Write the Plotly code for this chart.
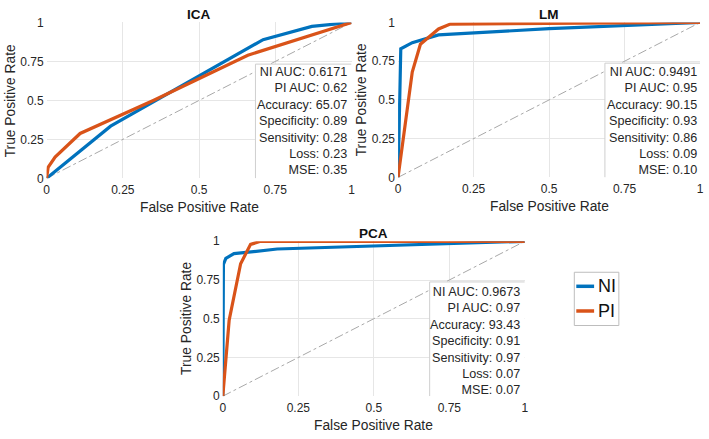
import plotly.graph_objects as go

# ---------------- data ----------------
ica_ni_fpr = [0, 0.21, 0.71, 0.87, 1]
ica_ni_tpr = [0, 0.335, 0.89, 0.975, 1]
ica_pi_fpr = [0, 0.005, 0.028, 0.11, 0.35, 0.66, 1]
ica_pi_tpr = [0, 0.07, 0.137, 0.288, 0.5, 0.79, 1]

lm_ni_fpr = [0, 0.009, 0.047, 0.134, 0.5, 0.8, 1]
lm_ni_tpr = [0, 0.83, 0.87, 0.92, 0.96, 0.985, 1]
lm_pi_fpr = [0, 0.047, 0.074, 0.134, 0.173, 0.5, 1]
lm_pi_tpr = [0, 0.68, 0.86, 0.958, 0.99, 0.995, 1]

pca_ni_fpr = [0, 0.002, 0.01, 0.037, 0.18, 0.5, 0.75, 1]
pca_ni_tpr = [0, 0.85, 0.89, 0.92, 0.95, 0.97, 0.985, 1]
pca_pi_fpr = [0, 0.01, 0.021, 0.059, 0.092, 0.125, 1]
pca_pi_tpr = [0, 0.25, 0.49, 0.855, 0.98, 1.0, 1.0]

diag = [0, 1]
tick_vals = [0, 0.25, 0.5, 0.75, 1]
tick_text = ["0", "0.25", "0.5", "0.75", "1"]

titles = ["ICA", "LM", "PCA"]
series_names = ["NI", "PI"]
stats_labels = ["NI AUC", "PI AUC", "Accuracy", "Specificity", "Sensitivity", "Loss", "MSE"]
ica_stats = ["0.6171", "0.62", "65.07", "0.89", "0.28", "0.23", "0.35"]
lm_stats = ["0.9491", "0.95", "90.15", "0.93", "0.86", "0.09", "0.10"]
pca_stats = ["0.9673", "0.97", "93.43", "0.91", "0.97", "0.07", "0.07"]

# ---------------- style ----------------
BLUE = "#0072BD"
ORANGE = "#D95319"
TXT = "#262626"
FONT = "Liberation Sans, Arial, sans-serif"
W, H = 709, 439

# panel pixel boxes (left, right, top, bottom)
panels = [
    (44, 352, 16, 177),
    (399, 704, 16, 176),
    (222, 527, 242, 402),
]
data = [
    (ica_ni_fpr, ica_ni_tpr, ica_pi_fpr, ica_pi_tpr, ica_stats),
    (lm_ni_fpr, lm_ni_tpr, lm_pi_fpr, lm_pi_tpr, lm_stats),
    (pca_ni_fpr, pca_ni_tpr, pca_pi_fpr, pca_pi_tpr, pca_stats),
]
box_top = [0.733, 0.7375, 0.7375]
text_mid = [0.366, 0.3625, 0.358]
text_right = [0.992, 0.995, 0.992]

fig = go.Figure()
layout = dict(
    width=W, height=H, margin=dict(l=0, r=0, t=0, b=0),
    paper_bgcolor="white", plot_bgcolor="white",
    showlegend=False, font=dict(family=FONT, color=TXT, size=12),
)
shapes, annotations = [], []

for i, ((l, r, t, b), (nx, ny, px, py, st)) in enumerate(zip(panels, data)):
    k = "" if i == 0 else str(i + 1)
    xa, ya = "x" + k, "y" + k
    axis_common = dict(
        range=[0, 1], tickvals=tick_vals, ticktext=tick_text,
        showgrid=True, gridcolor="#e6e6e6", gridwidth=1,
        zeroline=False, showline=False, ticks="",
        tickfont=dict(family=FONT, size=12, color=TXT), fixedrange=True,
    )
    layout["xaxis" + k] = dict(axis_common, domain=[l / W, r / W], anchor=ya,
                               ticklabelstandoff=3)
    layout["yaxis" + k] = dict(axis_common, domain=[1 - b / H, 1 - t / H], anchor=xa,
                               ticklabelstandoff=2)

    fig.add_trace(go.Scatter(x=diag, y=diag, mode="lines", xaxis=xa, yaxis=ya,
                             line=dict(color="#a8a8a8", width=1, dash="dashdot"),
                             hoverinfo="skip"))
    fig.add_trace(go.Scatter(x=nx, y=ny, mode="lines", name="NI", xaxis=xa, yaxis=ya,
                             line=dict(color=BLUE, width=3.2)))
    fig.add_trace(go.Scatter(x=px, y=py, mode="lines", name="PI", xaxis=xa, yaxis=ya,
                             line=dict(color=ORANGE, width=3.2)))

    # info box
    x0 = 0.685
    shapes.append(dict(type="rect", xref=xa, yref=ya, x0=x0, x1=1, y0=0, y1=box_top[i],
                       fillcolor="white", line=dict(width=0), layer="above"))
    shapes.append(dict(type="path", xref=xa, yref=ya,
                       path=f"M {x0},0 L {x0},{box_top[i]} L 1,{box_top[i]}",
                       line=dict(color="#cfcfcf", width=1), layer="above"))
    txt = "<br>".join(f"{lab}: {v}" for lab, v in zip(stats_labels, st))
    annotations.append(dict(xref=xa, yref=ya, x=text_right[i], y=text_mid[i],
                            xanchor="right", yanchor="middle", align="right",
                            text=txt, showarrow=False,
                            font=dict(family=FONT, size=12.6, color=TXT)))
    # title
    annotations.append(dict(xref="paper", yref="paper", x=(l + r) / 2 / W,
                            y=1 - (t - 8) / H, xanchor="center", yanchor="middle",
                            text="<b>" + titles[i] + "</b>", showarrow=False,
                            font=dict(family=FONT, size=13.5, color="#111")))
    # axis titles
    annotations.append(dict(xref="paper", yref="paper", x=(l + r) / 2 / W,
                            y=1 - (b + 30) / H, xanchor="center", yanchor="middle",
                            text="False Positive Rate", showarrow=False,
                            font=dict(family=FONT, size=13.8, color=TXT)))
    annotations.append(dict(xref="paper", yref="paper", x=(l - 36) / W,
                            y=1 - (t + b) / 2 / H, xanchor="center", yanchor="middle",
                            text="True Positive Rate", textangle=-90, showarrow=False,
                            font=dict(family=FONT, size=13.8, color=TXT)))

# legend (manual)
lg_l, lg_r, lg_t, lg_b = 577, 622, 274, 329
shapes.append(dict(type="rect", xref="paper", yref="paper", x0=lg_l / W, x1=lg_r / W,
                   y0=1 - lg_b / H, y1=1 - lg_t / H, line=dict(color="#bdbdbd", width=1),
                   fillcolor="white"))
for name, col, yy in zip(series_names, [BLUE, ORANGE], [288.5, 314]):
    shapes.append(dict(type="line", xref="paper", yref="paper", x0=579 / W, x1=597 / W,
                       y0=1 - yy / H, y1=1 - yy / H, line=dict(color=col, width=3.5)))
    annotations.append(dict(xref="paper", yref="paper", x=599 / W, y=1 - yy / H,
                            xanchor="left", yanchor="middle", text=name, showarrow=False,
                            font=dict(family=FONT, size=18, color="#111")))

layout["shapes"] = shapes
layout["annotations"] = annotations
fig.update_layout(**layout)
fig.write_html("out.html")
